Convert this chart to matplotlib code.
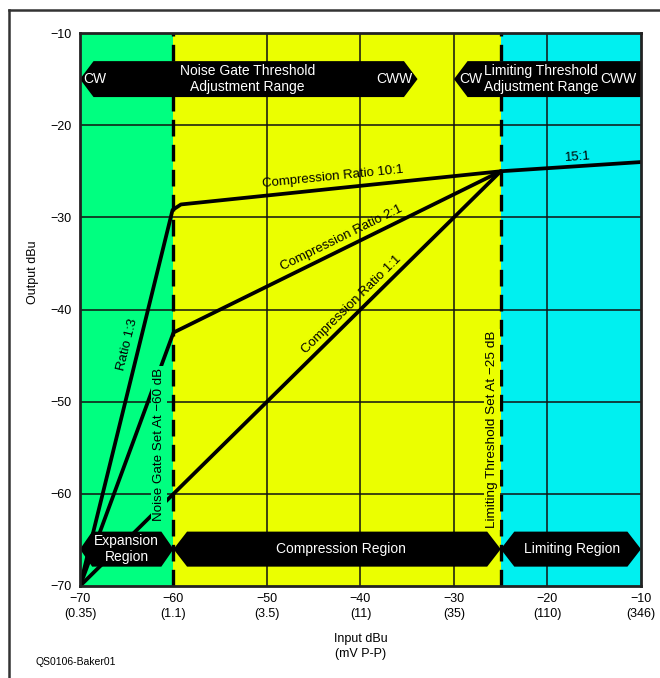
import numpy as np
import matplotlib
matplotlib.use("Agg")
import matplotlib.pyplot as plt
from matplotlib.patches import Polygon
from matplotlib.lines import Line2D

plt.rcParams['font.family'] = ['Liberation Sans', 'DejaVu Sans']

# axis ticks
x_ticks = [-70, -60, -50, -40, -30, -20, -10]
x_mv = ['0.35', '1.1', '3.5', '11', '35', '110', '346']
y_ticks = [-70, -60, -50, -40, -30, -20, -10]

# region boundaries
gate_db = -60
limit_db = -25

# transfer curves
ratio13_x = [-70, -60.1, -59.2, -25, -10]
ratio13_y = [-70, -29.2, -28.6, -25, -24]
ratio21_x = [-70, -60, -25]
ratio21_y = [-70, -42.5, -25]
ratio11_x = [-70, -60, -25]
ratio11_y = [-70, -60, -25]

GREEN = '#00ff80'
YELLOW = '#ebff00'
CYAN = '#00f0f0'

fig = plt.figure(figsize=(6.6, 6.78), dpi=100)
ax = fig.add_axes([0.1212, 0.1357, 0.85, 0.8156])
ax.set_xlim(-70, -10)
ax.set_ylim(-70, -10)

# coloured regions
ax.axvspan(-70, gate_db, color=GREEN, zorder=0, lw=0)
ax.axvspan(gate_db, limit_db, color=YELLOW, zorder=0, lw=0)
ax.axvspan(limit_db, -10, color=CYAN, zorder=0, lw=0)

# grid
for v in x_ticks[1:-1]:
    if v != gate_db:
        ax.axvline(v, color='#111111', lw=1.1, zorder=1)
for v in y_ticks[1:-1]:
    ax.axhline(v, color='#111111', lw=1.1, zorder=1)
for v in (gate_db, limit_db):
    ax.axvline(v, color='black', lw=2.4, dashes=(5, 2.5), zorder=2)

# curves
for xs, ys in ((ratio13_x, ratio13_y), (ratio21_x, ratio21_y), (ratio11_x, ratio11_y)):
    ax.plot(xs, ys, color='black', lw=2.7, solid_joinstyle='round',
            solid_capstyle='round', zorder=3)


def banner(x0, x1, yc, h, d):
    pts = [(x0, yc), (x0 + d, yc + h / 2), (x1 - d, yc + h / 2), (x1, yc),
           (x1 - d, yc - h / 2), (x0 + d, yc - h / 2)]
    ax.add_patch(Polygon(pts, closed=True, facecolor='black', edgecolor='none',
                         zorder=6, clip_on=True))


def wtext(x, y, s, **kw):
    ax.text(x, y, s, color='white', fontsize=10, ha='center', va='center',
            zorder=7, linespacing=1.15, **kw)


# top banners
banner(-70, -33.9, -15.0, 3.9, 1.45)
wtext(-68.4, -15.0, 'CW')
wtext(-52.1, -15.0, 'Noise Gate Threshold\nAdjustment Range')
wtext(-36.4, -15.0, 'CWW')
banner(-30.0, -8.6, -15.0, 3.9, 1.45)
wtext(-28.2, -15.0, 'CW')
wtext(-20.7, -15.0, 'Limiting Threshold\nAdjustment Range')
wtext(-12.4, -15.0, 'CWW')

# bottom banners
banner(-70, -60, -66.0, 3.8, 1.3)
wtext(-65.0, -66.0, 'Expansion\nRegion')
banner(-60, -25, -66.0, 3.8, 1.45)
wtext(-42.1, -66.0, 'Compression Region')
banner(-25, -10, -66.0, 3.8, 1.45)
wtext(-17.4, -66.0, 'Limiting Region')

# curve labels
lab = dict(fontsize=9.5, ha='center', va='center', rotation_mode='anchor',
           transform_rotates_text=True, zorder=5)
ax.text(-42.9, -25.6, 'Compression Ratio 10:1',
        rotation=np.degrees(np.arctan(3.6 / 35)), **lab)
ax.text(-42.0, -32.2, 'Compression Ratio 2:1',
        rotation=np.degrees(np.arctan(0.5)), **lab)
ax.text(-40.9, -39.5, 'Compression Ratio 1:1', rotation=45, **lab)
ax.text(-16.8, -23.5, '15:1', rotation=np.degrees(np.arctan(1 / 15)), **lab)
ax.text(-64.9, -43.8, 'Ratio 1:3', rotation=np.degrees(np.arctan(4.08)), **lab)

ax.text(-61.55, -54.6, 'Noise Gate Set At \u221260 dB', rotation=90,
        fontsize=9.6, ha='center', va='center', zorder=5,
        bbox=dict(boxstyle='square,pad=0.15', fc=GREEN, ec='none'))
ax.text(-25.95, -53.0, 'Limiting Threshold Set At \u221225 dB', rotation=90,
        fontsize=9.7, ha='center', va='center', zorder=5,
        bbox=dict(boxstyle='square,pad=0.15', fc=YELLOW, ec='none'))

# axes styling
ax.set_xticks(x_ticks)
ax.set_xticklabels(['\u2212%d\n(%s)' % (-v, m) for v, m in zip(x_ticks, x_mv)],
                   fontsize=9, linespacing=1.35)
ax.set_yticks(y_ticks)
ax.set_yticklabels(['\u2212%d' % (-v) for v in y_ticks], fontsize=9)
ax.tick_params(length=0, pad=5)
ax.tick_params(axis='y', pad=6)
for sp in ax.spines.values():
    sp.set_linewidth(2)
    sp.set_color('#222222')
    sp.set_zorder(8)

ax.set_xlabel('Input dBu\n(mV P-P)', fontsize=9, labelpad=9, linespacing=1.4)
ax.set_ylabel('Output dBu', fontsize=9)
ax.yaxis.set_label_coords(-0.073, 0.568)

fig.text(35 / 660, 1 - 662 / 678, 'QS0106-Baker01', fontsize=7.5,
         va='center', ha='left')

# figure frame (top and left edges)
fig.add_artist(Line2D([9 / 660, 1], [1 - 10 / 678, 1 - 10 / 678],
                      color='#333333', lw=1.8, transform=fig.transFigure))
fig.add_artist(Line2D([9 / 660, 9 / 660], [0, 1 - 10 / 678],
                      color='#333333', lw=1.8, transform=fig.transFigure))

fig.savefig('out.png', dpi=100)
